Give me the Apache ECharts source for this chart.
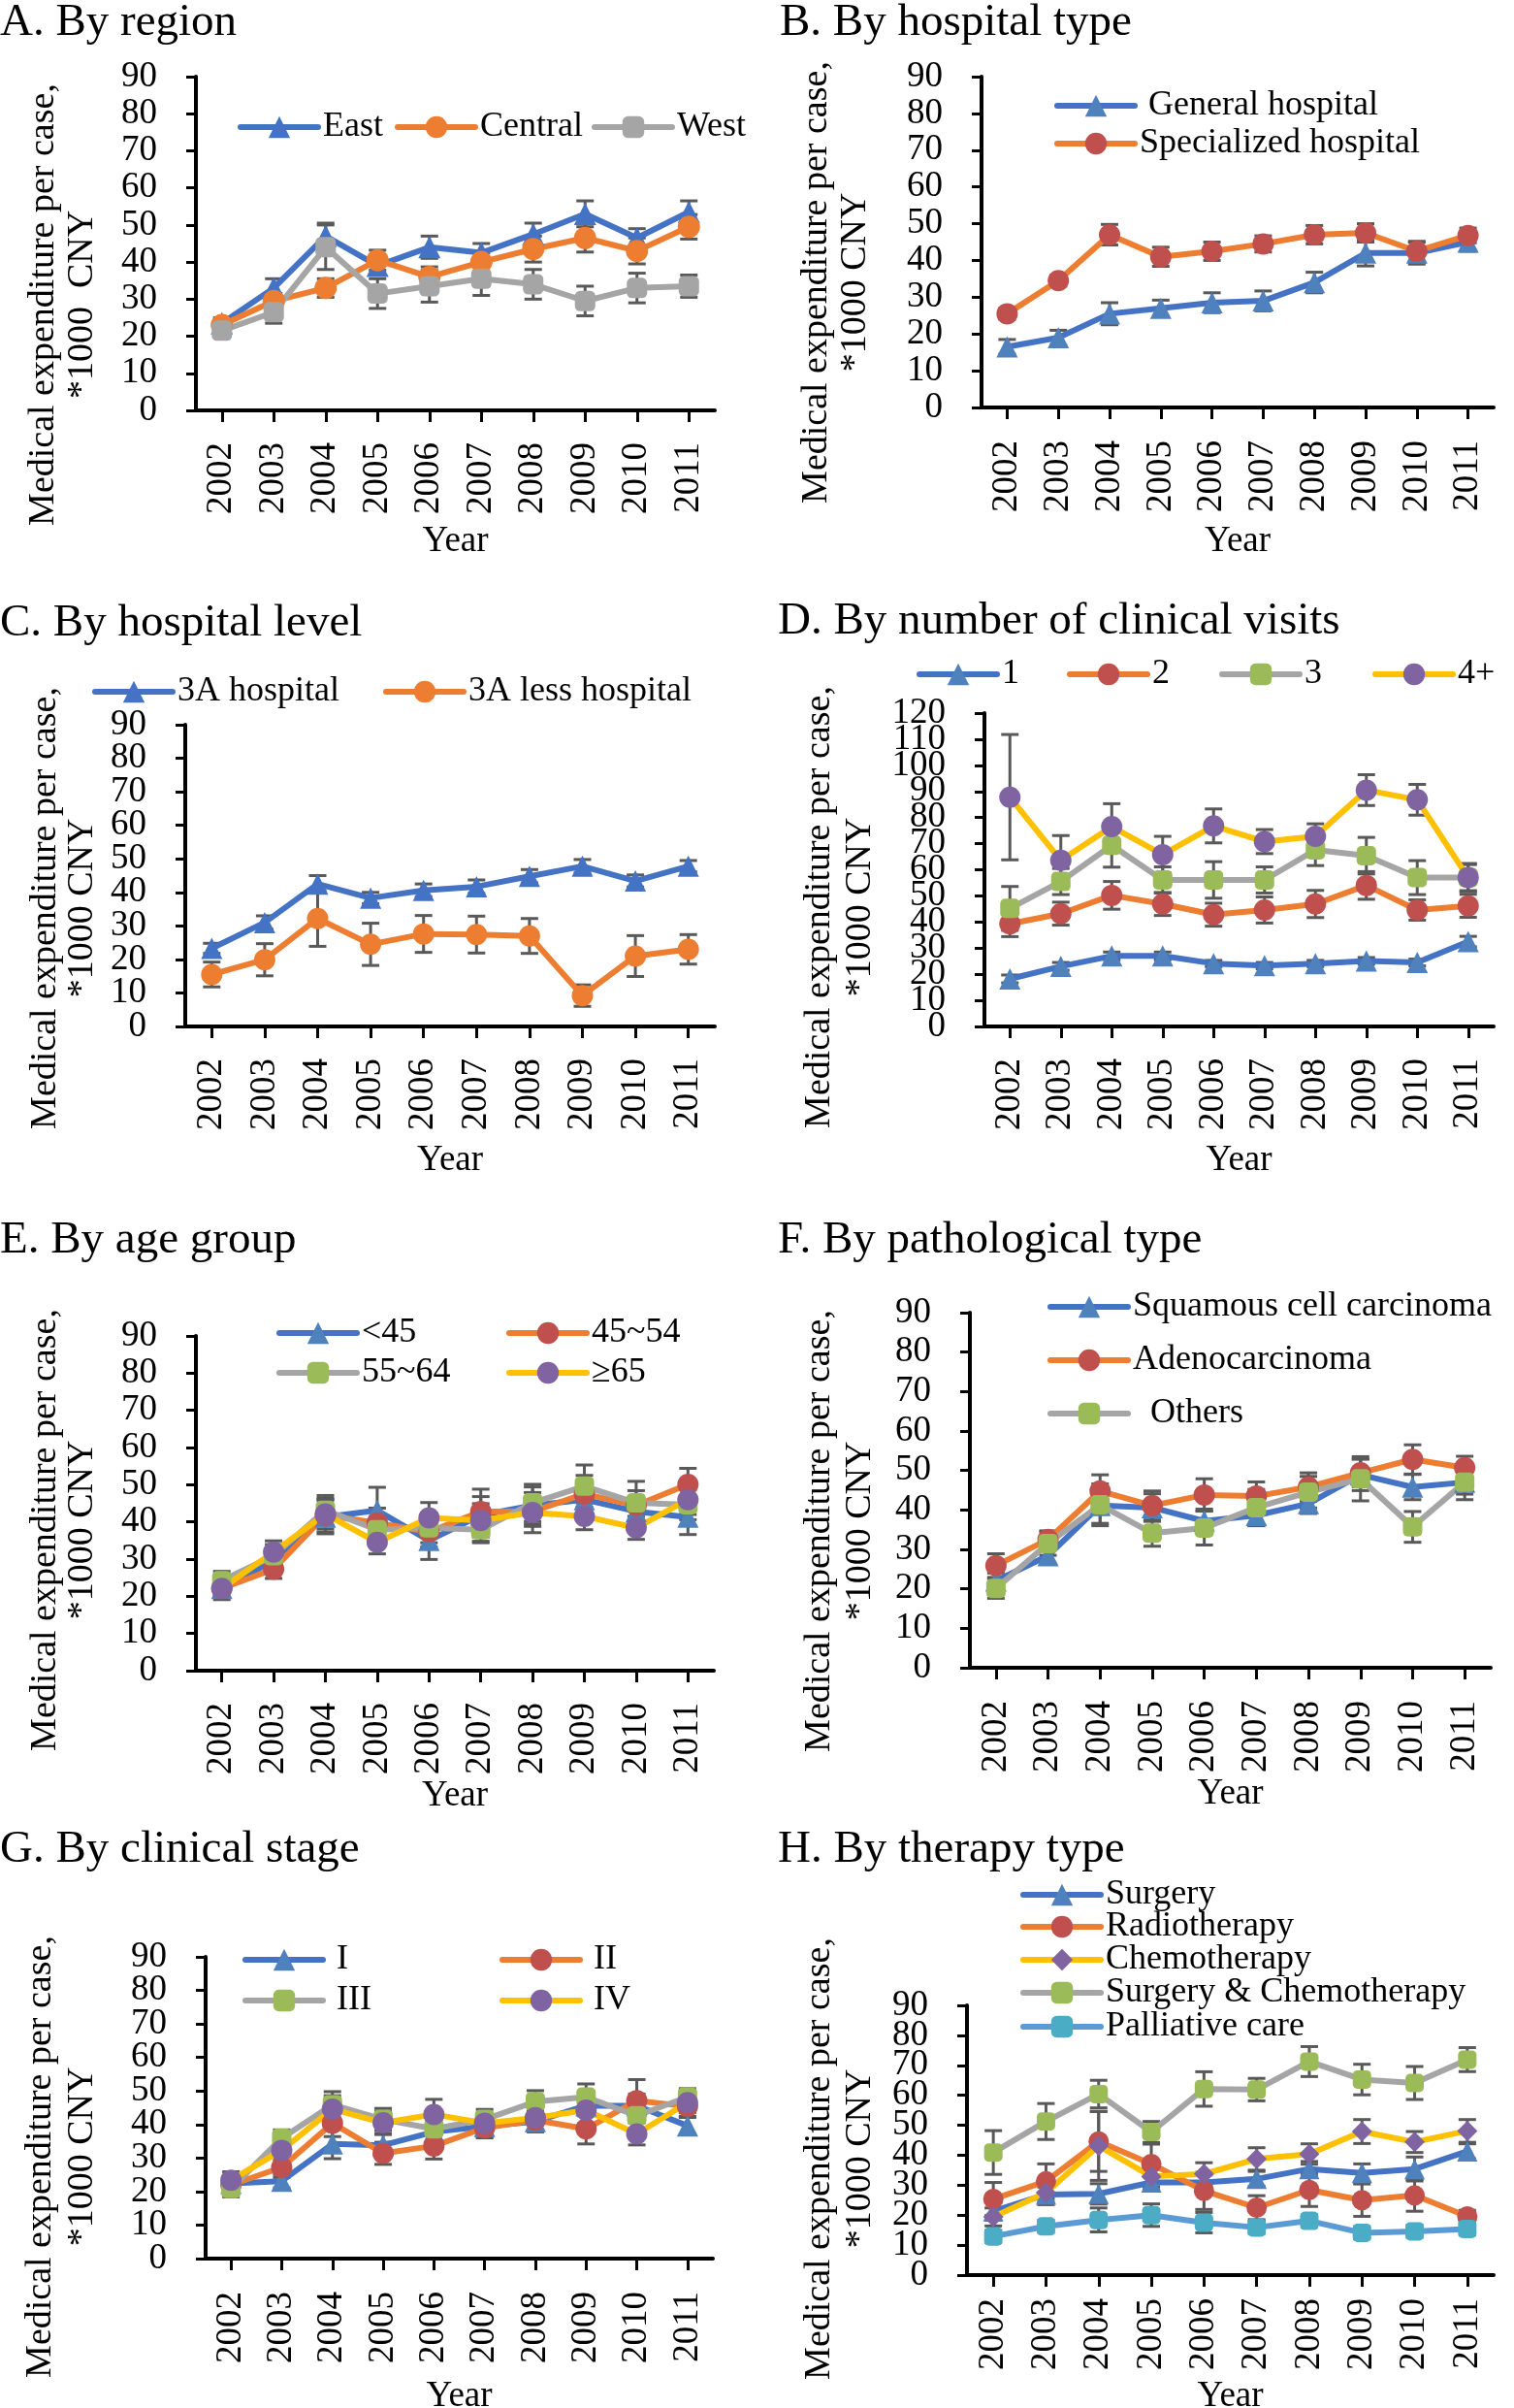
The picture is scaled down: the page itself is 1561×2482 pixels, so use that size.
<!DOCTYPE html>
<html>
<head>
<meta charset="utf-8">
<script src="https://cdn.jsdelivr.net/npm/echarts@6/dist/echarts.min.js"></script>
<style>
html,body{margin:0;padding:0;background:#fff;}
#chart{width:1561px;height:2482px;}
</style>
</head>
<body>
<div id="chart"></div>
<script>
// ---------- DATA ----------
const years = ['2002','2003','2004','2005','2006','2007','2008','2009','2010','2011'];
const yTicks90 = ['0','10','20','30','40','50','60','70','80','90'];
const yTicks120 = ['0','10','20','30','40','50','60','70','80','90','100','110','120'];

// A. By region
const regionEast = [23.5, 33, 47, 39, 44, 42.5, 47.5, 53, 46.5, 53.5];
const regionEastErr = [1.5, 2.5, 3.5, 2.5, 3, 2.5, 3, 3.5, 2.5, 3];
const regionCentral = [23, 29.5, 33, 40.5, 36, 40, 43.5, 46.5, 43, 49.5];
const regionCentralErr = [1.5, 2, 2.5, 2.7, 2.7, 2.5, 3.5, 3.8, 3.5, 3.3];
const regionWest = [21.5, 26.5, 44, 31.5, 33.5, 35.5, 34, 29.5, 33, 33.5];
const regionWestErr = [1.5, 3, 6, 4, 4.3, 4.5, 4, 4, 4, 3];

// B. By hospital type
const typeGeneral = [16.5, 19, 25.5, 27, 28.5, 29, 34, 42, 42, 45];
const typeGeneralErr = [2, 2, 3, 2.2, 2.7, 2.7, 2.8, 3.5, 3, 2.5];
const typeSpecial = [25.5, 34.5, 47, 41, 42.5, 44.5, 47, 47.5, 42.5, 46.8];
const typeSpecialErr = [1.5, 1.5, 2.8, 2.6, 2.5, 2.2, 2.5, 2.5, 2.7, 2];

// C. By hospital level
const level3A = [23.3, 31, 42.5, 38.3, 40.6, 41.7, 44.8, 47.8, 43.4, 47.8];
const level3AErr = [1.5, 2, 2.5, 1.7, 1.9, 2, 2, 2, 1.8, 1.7];
const level3ALess = [15.5, 19.9, 32.2, 24.5, 27.6, 27.4, 27, 9.2, 21, 23];
const level3ALessErr = [3.7, 4.8, 8.3, 6.3, 5.5, 5.5, 5.2, 3.2, 6.1, 4.4];

// D. By number of clinical visits
const visits1 = [18.2, 23, 27, 27, 24.1, 23.3, 24.1, 25.1, 24.5, 32.5];
const visits1Err = [1.5, 1.5, 1.5, 1.5, 1.2, 1.2, 1.2, 1.3, 1.3, 2];
const visits2 = [39.3, 43.2, 50.2, 46.9, 42.8, 44.6, 46.9, 54, 44.6, 46.2];
const visits2Err = [4.9, 4.4, 5.3, 4.4, 4.4, 5, 5.2, 5.3, 3.9, 4.4];
const visits3 = [45.2, 55.5, 69.4, 56.1, 56.1, 56.1, 67.6, 65.4, 57, 57];
const visits3Err = [8.4, 5, 8.4, 5, 7, 5, 6, 7, 6.5, 5];
const visits4 = [87.8, 63.6, 76.5, 65.8, 76.8, 70.8, 72.8, 90.5, 86.8, 57];
const visits4Err = [24, 9.5, 8.8, 7, 6.5, 4.6, 4.8, 5.9, 5.9, 5.4];

// E. By age group
const ageU45 = [22.1, 29.6, 41.3, 43.1, 35, 41.8, 44.4, 46, 42.8, 41.3];
const ageU45Err = [2, 2.5, 4.5, 6.2, 5.1, 7, 5, 5, 4, 4.7];
const age45 = [22.1, 27.3, 41.8, 39.7, 37.3, 42.8, 42.8, 47.5, 44.4, 50.1];
const age45Err = [2, 2.5, 4.5, 4, 4, 4, 4, 5, 4, 4.3];
const age55 = [24.2, 30.9, 43.1, 37.9, 38.4, 37.9, 45.1, 49.6, 45.1, 44.6];
const age55Err = [2.5, 3, 4, 3.5, 4, 3.5, 5, 5.7, 5.8, 4];
const age65 = [22.1, 31.9, 42.1, 34.5, 41.1, 40.4, 42.5, 41.5, 38.4, 46];
const age65Err = [3, 3, 4, 3.1, 4.1, 4.5, 5.4, 3.6, 3.1, 4];

// F. By pathological type
const pathSquamous = [22, 28.4, 41.1, 40.6, 37.2, 38.6, 41.6, 48.9, 45.8, 47];
const pathSquamousErr = [2, 2, 4.5, 3.5, 3, 2.5, 2.5, 4, 3.2, 3];
const pathAdeno = [25.9, 32.5, 44.8, 41.1, 43.8, 43.5, 45.8, 49.4, 52.8, 50.7];
const pathAdenoErr = [3, 2.2, 4.1, 3.7, 4.1, 3.6, 3.6, 3.5, 3.7, 2.9];
const pathOthers = [20.1, 31.5, 41.3, 34.1, 35.4, 40.6, 44.5, 47.9, 35.7, 47];
const pathOthersErr = [2.5, 3, 5.3, 3.3, 4.3, 4.6, 4, 5.6, 3.9, 4.4];

// G. By clinical stage
const stageI = [22.4, 23.1, 34.2, 33.8, 37.8, 39.4, 40.9, 45.6, 45.6, 39.6];
const stageIErr = [2, 2, 4.4, 3.5, 3.5, 3, 3, 3, 3.5, 2.5];
const stageII = [22, 27.2, 40.4, 31.4, 33.6, 39, 41.3, 38.7, 47.1, 45.4];
const stageIIErr = [2, 3, 4, 3.3, 3.9, 3, 3.5, 4.5, 6.3, 3];
const stageIII = [20.9, 35.9, 45.9, 41.5, 38.7, 41.5, 46.8, 48.2, 42.6, 48.2];
const stageIIIErr = [2.5, 2.5, 3.9, 3.3, 4, 3, 3.3, 3.9, 4, 2.5];
const stageIV = [23.4, 32.3, 44.6, 40.5, 43, 40.4, 42, 44.3, 37.2, 46.5];
const stageIVErr = [2.5, 3, 4, 3.5, 4.5, 3, 3.5, 4, 3.3, 3];

// H. By therapy type
const therSurgery = [21.3, 26.9, 27.1, 30.9, 30.9, 32.1, 35.4, 34.1, 35.4, 41.3];
const therSurgeryErr = [3, 2.5, 3.4, 2.5, 2.5, 2.5, 2.5, 3, 4, 2.5];
const therRadio = [25.4, 31.3, 44.6, 37.1, 28.1, 22.5, 28.4, 25, 26.6, 19.6];
const therRadioErr = [5.5, 5.8, 10, 6.6, 6.2, 4, 5.5, 5.4, 5.3, 2];
const therChemo = [19.4, 27.5, 43.1, 32.9, 33.75, 38.75, 40.4, 47.9, 44.4, 48.1];
const therChemoErr = [3, 4, 11.5, 3.5, 3.75, 3.75, 3.4, 4, 3.5, 3.8];
const therSurgChemo = [40.9, 51.25, 60.4, 47.75, 62.1, 61.9, 71.25, 65.25, 64.1, 71.9];
const therSurgChemoErr = [7.3, 6, 4.6, 3.5, 5.75, 3.75, 5, 5.1, 5.5, 4];
const therPalliative = [12.9, 16.25, 18.4, 20, 17.5, 15.9, 18.1, 14.1, 14.6, 15.4];
const therPalliativeErr = [2, 2, 4, 3.75, 3.4, 2, 2, 2, 2, 2];

// ---------- STYLE / LAYOUT ----------
const FONT = '"Liberation Serif", "Times New Roman", Times, serif';
const BLUE = '#4472C4', BLUE_M = '#4F81BD', ORANGE = '#ED7D31', RED_M = '#C0504D',
      GRAY = '#A5A5A5', GREEN_M = '#9BBB59', YELLOW = '#FFC000', PURPLE_M = '#8064A2',
      LBLUE = '#5B9BD5', TEAL_M = '#4BACC6';

function S(name, values, errs, line, marker, symbol, lx, ly, pre) {
  return {name, values, errs, line, marker, symbol, lx, ly, pre: pre || ''};
}

const panels = [
  { title: 'A. By region', tx: 0, ty: 0, grid: [202, 79, 535, 344], ticks: yTicks90, lm: 33, ng: 117,
    yn: [45, 85, 314], yn2: '*1000  CNY', msize: 23,
    series: [
      S('East', regionEast, regionEastErr, BLUE, BLUE, 'triangle', 245, 127),
      S('Central', regionCentral, regionCentralErr, ORANGE, ORANGE, 'circle', 407, 127),
      S('West', regionWest, regionWestErr, GRAY, GRAY, 'roundRect', 610, 127)
    ]},
  { title: 'B. By hospital type', tx: 804, ty: 0, grid: [1012, 79, 528, 341], ticks: yTicks90, lm: 34, ng: 120,
    yn: [842, 882, 291], yn2: '*1000 CNY', msize: 22,
    series: [
      S('General hospital', typeGeneral, typeGeneralErr, BLUE, BLUE_M, 'triangle', 1087, 105, ' '),
      S('Specialized hospital', typeSpecial, typeSpecialErr, ORANGE, RED_M, 'circle', 1087, 144)
    ]},
  { title: 'C. By hospital level', tx: 0, ty: 619, grid: [191, 747, 546, 311], ticks: yTicks90, lm: 33, ng: 120,
    yn: [47, 85, 936], yn2: '*1000 CNY', msize: 22,
    series: [
      S('3A hospital', level3A, level3AErr, BLUE, BLUE, 'triangle', 95, 709),
      S('3A less hospital', level3ALess, level3ALessErr, ORANGE, ORANGE, 'circle', 395, 709)
    ]},
  { title: 'D. By number of clinical visits', tx: 802, ty: 617, grid: [1015, 735, 525, 323], ticks: yTicks120, lm: 33, ng: 120,
    yn: [845, 887, 935], yn2: '*1000 CNY', msize: 22,
    series: [
      S('1', visits1, visits1Err, BLUE, BLUE_M, 'triangle', 945, 691),
      S('2', visits2, visits2Err, ORANGE, RED_M, 'circle', 1100, 691),
      S('3', visits3, visits3Err, GRAY, GREEN_M, 'roundRect', 1257, 691),
      S('4+', visits4, visits4Err, YELLOW, PURPLE_M, 'circle', 1415, 691)
    ]},
  { title: 'E. By age group', tx: 0, ty: 1255, grid: [202, 1377, 534, 345], ticks: yTicks90, lm: 33, ng: 106,
    yn: [47, 85, 1577], yn2: '*1000 CNY', msize: 22,
    series: [
      S('<45', ageU45, ageU45Err, BLUE, BLUE_M, 'triangle', 285, 1370),
      S('45~54', age45, age45Err, ORANGE, RED_M, 'circle', 522, 1370),
      S('55~64', age55, age55Err, GRAY, GREEN_M, 'roundRect', 285, 1411),
      S('\u226565', age65, age65Err, YELLOW, PURPLE_M, 'circle', 522, 1411)
    ]},
  { title: 'F. By pathological type', tx: 802, ty: 1255, grid: [1000, 1353, 537, 366], ticks: yTicks90, lm: 34, ng: 109,
    yn: [845, 887, 1578], yn2: '*1000 CNY', msize: 22,
    series: [
      S('Squamous cell carcinoma', pathSquamous, pathSquamousErr, BLUE, BLUE_M, 'triangle', 1080, 1343),
      S('Adenocarcinoma', pathAdeno, pathAdenoErr, ORANGE, RED_M, 'circle', 1080, 1398),
      S('Others', pathOthers, pathOthersErr, GRAY, GREEN_M, 'roundRect', 1080, 1453, '  ')
    ]},
  { title: 'G. By clinical stage', tx: 0, ty: 1883, grid: [212, 2017, 523, 311], ticks: yTicks90, lm: 34, ng: 124,
    yn: [42, 85, 2223], yn2: '*1000 CNY', msize: 22,
    series: [
      S('I', stageI, stageIErr, BLUE, BLUE_M, 'triangle', 250, 2016, ' '),
      S('II', stageII, stageIIErr, ORANGE, RED_M, 'circle', 515, 2016, ' '),
      S('III', stageIII, stageIIIErr, GRAY, GREEN_M, 'roundRect', 250, 2058, ' '),
      S('IV', stageIV, stageIVErr, YELLOW, PURPLE_M, 'circle', 515, 2058, ' ')
    ]},
  { title: 'H. By therapy type', tx: 802, ty: 1883, grid: [997, 2067, 543, 278], ticks: yTicks90, lm: 24, ng: 107,
    yn: [845, 887, 2225], yn2: '*1000 CNY', msize: 21,
    series: [
      S('Surgery', therSurgery, therSurgeryErr, BLUE, BLUE_M, 'triangle', 1052, 1949),
      S('Radiotherapy', therRadio, therRadioErr, ORANGE, RED_M, 'circle', 1052, 1982),
      S('Chemotherapy', therChemo, therChemoErr, YELLOW, PURPLE_M, 'diamond', 1052, 2016),
      S('Surgery & Chemotherapy', therSurgChemo, therSurgChemoErr, GRAY, GREEN_M, 'roundRect', 1052, 2050),
      S('Palliative care', therPalliative, therPalliativeErr, LBLUE, TEAL_M, 'roundRect', 1052, 2085)
    ]}
];

// ---------- BUILD ----------
function errRender(params, api) {
  const x = api.value(0);
  const lo = api.coord([x, api.value(1)]);
  const hi = api.coord([x, api.value(2)]);
  const w = 9;
  const st = { stroke: '#595959', lineWidth: 3 };
  return { type: 'group', children: [
    { type: 'line', shape: { x1: lo[0], y1: lo[1], x2: hi[0], y2: hi[1] }, style: st },
    { type: 'line', shape: { x1: lo[0] - w, y1: lo[1], x2: lo[0] + w, y2: lo[1] }, style: st },
    { type: 'line', shape: { x1: hi[0] - w, y1: hi[1], x2: hi[0] + w, y2: hi[1] }, style: st }
  ]};
}

const titles = [], grids = [], xAxes = [], yAxes = [], legends = [], graphics = [], series = [];
const tickFont = { fontFamily: FONT, fontSize: 37, color: '#000' };

panels.forEach((p, i) => {
  const yMax = Number(p.ticks[p.ticks.length - 1]);
  const yIdx = 2 * i;
  titles.push({ text: p.title, left: p.tx, top: p.ty, padding: 0,
    textStyle: { fontFamily: FONT, fontSize: 47, fontWeight: 'normal', color: '#000' } });
  grids.push({ left: p.grid[0], top: p.grid[1], width: p.grid[2], height: p.grid[3],
    containLabel: false, outerBoundsMode: 'none' });
  xAxes.push({ type: 'category', gridIndex: i, data: years, boundaryGap: true,
    axisLine: { show: true, lineStyle: { color: '#000', width: 4 } },
    axisTick: { show: true, alignWithLabel: true, length: 12, lineStyle: { color: '#000', width: 3 } },
    axisLabel: Object.assign({ rotate: 90, margin: p.lm, interval: 0, hideOverlap: false }, tickFont),
    splitLine: { show: false },
    name: 'Year', nameLocation: 'middle', nameGap: p.ng,
    nameTextStyle: { fontFamily: FONT, fontSize: 37, color: '#000' } });
  // value axis: scale, line and ticks
  yAxes.push({ type: 'value', gridIndex: i, position: 'left', min: 0, max: yMax, interval: 10,
    splitLine: { show: false },
    axisLine: { show: true, lineStyle: { color: '#000', width: 4 } },
    axisTick: { show: true, length: 10, lineStyle: { color: '#000', width: 3 } },
    axisLabel: { show: false } });
  // tick-label axis (same positions), shows every label
  yAxes.push({ type: 'category', gridIndex: i, position: 'left', data: p.ticks, boundaryGap: false,
    axisLine: { show: false }, axisTick: { show: false }, splitLine: { show: false },
    axisLabel: Object.assign({ margin: 40, interval: 0, hideOverlap: false }, tickFont) });
  graphics.push({ type: 'text', x: p.yn[0], y: p.yn[2], rotation: Math.PI / 2,
    style: { text: 'Medical expenditure per case,', font: '38px ' + FONT, fill: '#000',
      align: 'center', verticalAlign: 'middle', textAlign: 'center', textVerticalAlign: 'middle' } });
  graphics.push({ type: 'text', x: p.yn[1], y: p.yn[2], rotation: Math.PI / 2,
    style: { text: p.yn2, font: '38px ' + FONT, fill: '#000',
      align: 'center', verticalAlign: 'middle', textAlign: 'center', textVerticalAlign: 'middle' } });

  p.series.forEach((s, k) => {
    series.push({ type: 'custom', name: 'err-' + i + '-' + k, xAxisIndex: i, yAxisIndex: yIdx,
      renderItem: errRender, silent: true, z: 1,
      encode: { x: 0, y: [1, 2] },
      data: s.values.map((v, j) => [j, v - s.errs[j], v + s.errs[j]]) });
  });
  p.series.forEach((s) => {
    series.push({ type: 'line', name: s.name, xAxisIndex: i, yAxisIndex: yIdx, data: s.values,
      symbol: s.symbol, symbolSize: s.symbol === 'roundRect' ? p.msize - 2 : p.msize,
      showAllSymbol: true, z: 3,
      lineStyle: { color: s.line, width: 6 },
      itemStyle: { color: s.marker, borderWidth: 0 },
      emphasis: { disabled: true } });
    legends.push({ data: [s.name], left: s.lx, top: s.ly - 14, padding: 0, orient: 'horizontal',
      itemWidth: 80, itemHeight: 28, selectedMode: false,
      formatter: s.pre + '{name}',
      lineStyle: { width: 6, cap: 'round' },
      itemStyle: { borderWidth: 0 },
      textStyle: { fontFamily: FONT, fontSize: 36, color: '#000', lineHeight: 28 } });
  });
});

const chart = echarts.init(document.getElementById('chart'), null, { renderer: 'canvas', width: 1561, height: 2482 });
chart.setOption({
  animation: false,
  backgroundColor: '#ffffff',
  textStyle: { fontFamily: FONT, color: '#000' },
  title: titles,
  grid: grids,
  xAxis: xAxes,
  yAxis: yAxes,
  legend: legends,
  graphic: graphics,
  series: series
});
</script>
</body>
</html>
